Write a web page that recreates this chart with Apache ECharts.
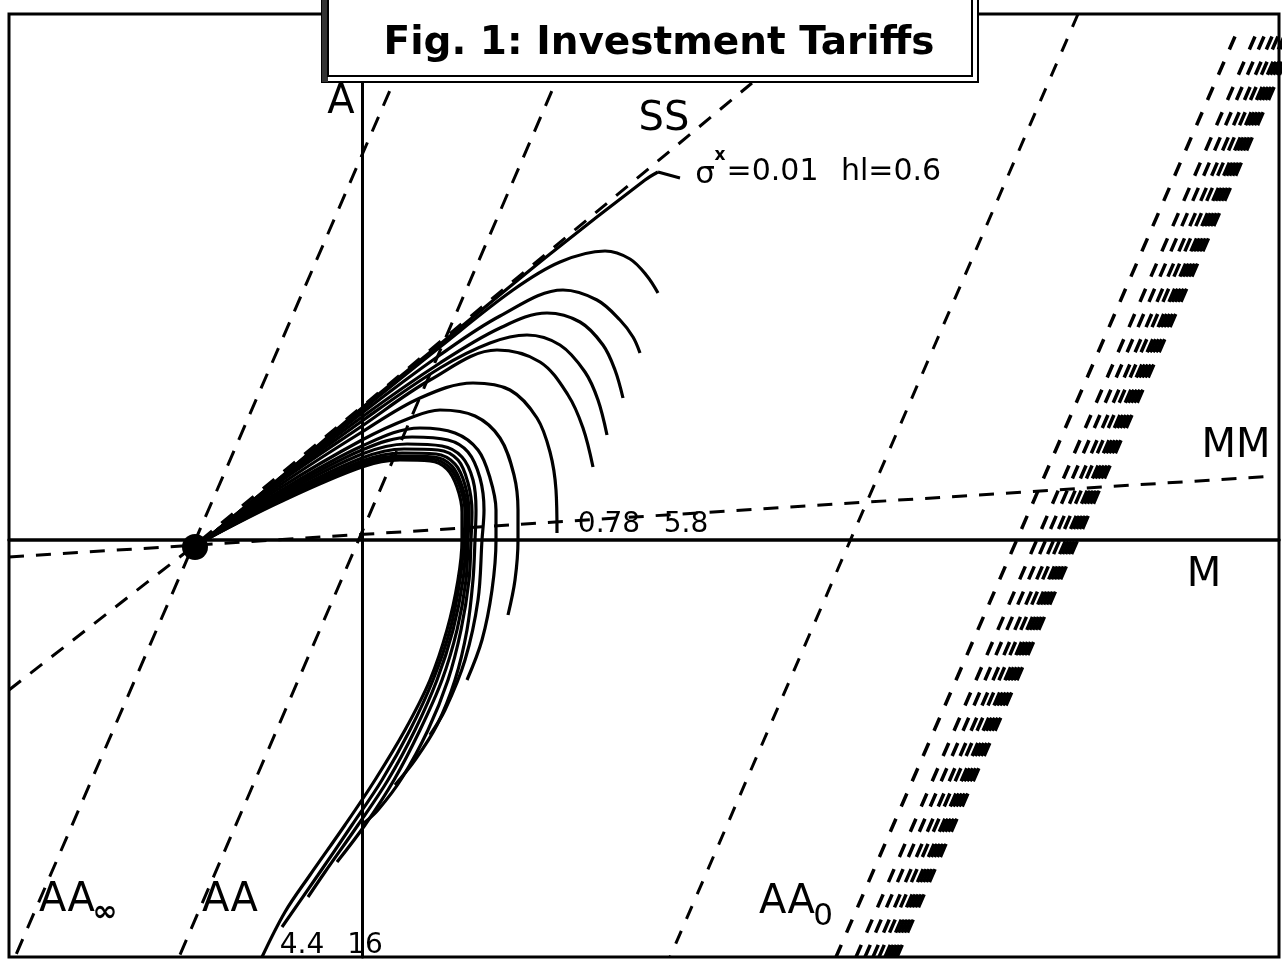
<!DOCTYPE html>
<html>
<head>
<meta charset="utf-8">
<title>Fig. 1: Investment Tariffs</title>
<script src="https://cdn.jsdelivr.net/npm/echarts/dist/echarts.min.js"></script>
<style>
  html, body { margin: 0; padding: 0; background: #fff; }
  #chart { width: 1287px; height: 963px; }
</style>
</head>
<body>
<div id="chart"></div>
<script>
// phase plane: M to the right, A upwards, origin where the two axes cross
var xMin = -3.53, xMax = 9.17;
var yMin = -4.17, yMax = 5.26;

// steady state (big dot)
var steadyPoint = [-1.67, -0.07];

// dashed loci
var lineAAinf = [[0.61, 5.26], [-3.47, -4.17]];
var lineAA = [[2.23, 5.26], [-1.83, -4.17]];
var lineAA0 = [[7.16, 5.26], [3.08, -4.17]];
var lineSS = [[-3.53, -1.50], [-1.67, -0.05], [3.90, 4.57]];
var lineMM = [[-3.53, -0.17], [9.13, 0.64]];

// bundle of AA loci on the right (drawn dashed, they merge into blocks)
var hatchTop = [8.73, 5.035];
var hatchBottom = [4.74, -4.17];
var hatchOffsets = [0, 0.20, 0.29, 0.37, 0.43, 0.49, 0.52, 0.55, 0.58, 0.61];

// adjustment paths, all leaving the steady state
var trajectories = [
  [[-1.57,0],[-0.82,0.62],[0,1.32],[0.88,2.04],[1.88,2.86],[2.83,3.60],[2.96,3.68]],
  [[-1.57,0],[-0.82,0.62],[0,1.30],[0.78,1.93],[1.51,2.50],[1.98,2.78],[2.43,2.89],[2.68,2.81],[2.85,2.64],[2.96,2.47]],
  [[-1.57,0],[-0.82,0.61],[0,1.27],[0.78,1.85],[1.38,2.24],[2.01,2.50],[2.35,2.40],[2.58,2.20],[2.71,2.03],[2.78,1.87]],
  [[-1.57,0],[-0.82,0.60],[0,1.23],[0.78,1.77],[1.38,2.12],[1.85,2.27],[2.18,2.18],[2.41,1.95],[2.53,1.70],[2.61,1.42]],
  [[-1.57,0],[-0.82,0.59],[0,1.19],[0.78,1.72],[1.28,1.97],[1.65,2.05],[1.98,1.95],[2.23,1.68],[2.36,1.40],[2.45,1.05]],
  [[-1.57,0],[-0.82,0.58],[0,1.14],[0.68,1.60],[1.35,1.90],[1.78,1.78],[2.06,1.45],[2.21,1.12],[2.31,0.73]],
  [[-1.57,0],[-0.82,0.55],[0,1.08],[0.58,1.42],[1.11,1.57],[1.48,1.50],[1.75,1.22],[1.88,0.88],[1.94,0.50],[1.95,0.07]],
  [[-1.57,0],[-0.82,0.52],[0,1.00],[0.48,1.22],[0.78,1.30],[1.13,1.24],[1.38,1.02],[1.52,0.65],[1.56,0.30],[1.56,0],[1.53,-0.40],[1.46,-0.75]],
  [[-1.57,0],[-0.82,0.49],[0,0.94],[0.58,1.12],[0.93,1.07],[1.16,0.90],[1.28,0.62],[1.34,0.30],[1.34,0],[1.30,-0.50],[1.20,-1.00],[1.05,-1.40]],
  [[-1.57,0],[-0.82,0.47],[0,0.90],[0.50,1.03],[0.86,1.00],[1.06,0.88],[1.18,0.62],[1.22,0.30],[1.20,0],[1.16,-0.60],[1.03,-1.20],[0.83,-1.70],[0.68,-1.95]],
  [[-1.57,0],[-0.82,0.45],[0,0.86],[0.45,0.96],[0.80,0.94],[1.00,0.83],[1.11,0.60],[1.14,0.30],[1.13,0],[1.11,-0.40],[1.05,-0.90],[0.93,-1.40],[0.75,-1.85],[0.53,-2.20],[0.33,-2.45]],
  [[-1.57,0],[-0.82,0.43],[0,0.82],[0.42,0.91],[0.76,0.90],[0.96,0.80],[1.06,0.57],[1.10,0.28],[1.09,0],[1.07,-0.40],[0.99,-0.90],[0.86,-1.40],[0.66,-1.90],[0.40,-2.38],[0.16,-2.70],[0.02,-2.83]],
  [[-1.57,0],[-0.82,0.41],[0,0.79],[0.40,0.87],[0.74,0.86],[0.93,0.76],[1.03,0.55],[1.07,0.28],[1.06,0],[1.04,-0.40],[0.95,-0.90],[0.80,-1.40],[0.58,-1.90],[0.32,-2.40],[0.03,-2.85],[-0.25,-3.22]],
  [[-1.57,0],[-0.82,0.40],[0,0.77],[0.38,0.84],[0.72,0.83],[0.90,0.74],[1.00,0.54],[1.05,0.28],[1.04,0],[1.01,-0.40],[0.91,-0.90],[0.75,-1.40],[0.53,-1.90],[0.26,-2.40],[-0.04,-2.85],[-0.37,-3.32],[-0.54,-3.57]],
  [[-1.57,0],[-0.82,0.39],[0,0.75],[0.38,0.82],[0.70,0.81],[0.88,0.72],[0.98,0.53],[1.03,0.28],[1.02,0],[0.98,-0.40],[0.88,-0.90],[0.71,-1.40],[0.48,-1.90],[0.20,-2.40],[-0.10,-2.85],[-0.44,-3.35],[-0.80,-3.87]],
  [[-1.57,0],[-0.82,0.38],[0,0.73],[0.38,0.80],[0.68,0.79],[0.85,0.71],[0.95,0.53],[1.00,0.28],[1.00,0],[0.96,-0.40],[0.85,-0.90],[0.68,-1.40],[0.43,-1.90],[0.13,-2.40],[-0.17,-2.85],[-0.52,-3.35],[-0.77,-3.72],[-1.00,-4.17]]
];
var leader = [[2.96, 3.68], [3.18, 3.62]];

// text on the plane: [x, y, text, size, weight]
var bigLabels = [[-0.21, 4.37, 'A'], [3.02, 4.20, 'SS'], [8.74, 0.93, 'MM'], [8.42, -0.36, 'M'],
                 [-2.95, -3.61, 'AA'], [-1.32, -3.61, 'AA'], [4.25, -3.63, 'AA']];
var smallLabels = [[3.43, 3.65, 'σ', 31], [4.105, 3.68, '=0.01', 30], [5.29, 3.68, 'hl=0.6', 30],
                   [2.47, 0.15, '0.78'], [3.24, 0.15, '5.8'], [-0.60, -4.06, '4.4'], [0.03, -4.06, '16']];
var subLabels = [[3.58, 3.84, 'x', 17, 'bold'], [-2.57, -3.73, '∞', 30, 'bold'], [4.61, -3.77, '0', 31, 'normal']];

var font = 'DejaVu Sans';
var series = [];

function plainLine(data, width, type, smooth) {
  return {
    type: 'line', data: data, symbol: 'none', silent: true, animation: false,
    smooth: smooth || false,
    lineStyle: { color: '#000', width: width, type: type || 'solid' }
  };
}

series.push(plainLine(lineAAinf, 3, [16, 12]));
series.push(plainLine(lineAA, 3, [16, 12]));
series.push(plainLine(lineAA0, 3, [14, 13]));
series.push(plainLine(lineSS, 3, [15, 12]));
series.push(plainLine(lineMM, 3, [15, 12]));

hatchOffsets.forEach(function (d) {
  series.push(plainLine([[hatchTop[0] + d, hatchTop[1]], [hatchBottom[0] + d, hatchBottom[1]]], 3.5, [14.2, 13.3]));
});

trajectories.forEach(function (p) {
  series.push(plainLine(p, 3.2, 'solid', 0.35));
});
series.push(plainLine(leader, 3));

series.push({
  type: 'scatter', data: [steadyPoint], symbolSize: 26, silent: true, animation: false,
  itemStyle: { color: '#000', opacity: 1 }, z: 5
});

function textSeries(list, size) {
  return {
    type: 'scatter', symbolSize: 1, silent: true, animation: false, z: 6,
    itemStyle: { color: 'rgba(0,0,0,0)', opacity: 1 },
    data: list.map(function (t) {
      var item = { name: t[2], value: [t[0], t[1]] };
      item.label = { fontSize: t[3] || size, fontWeight: t[4] || 'normal' };
      return item;
    }),
    label: {
      show: true, position: 'inside', color: '#000', opacity: 1, fontFamily: font,
      fontSize: size,
      formatter: function (p) { return p.name; }
    }
  };
}
series.push(textSeries(bigLabels, 40));
series.push(textSeries(smallLabels, 28));
series.push(textSeries(subLabels, 28));

var chart = echarts.init(document.getElementById('chart'), null, { renderer: 'canvas' });
chart.setOption({
  backgroundColor: '#fff',
  animation: false,
  grid: { left: 9, top: 14, width: 1270, height: 943, show: true, borderColor: '#000', borderWidth: 3 },
  xAxis: {
    type: 'value', min: xMin, max: xMax,
    axisLine: { onZero: true, lineStyle: { color: '#000', width: 3.5 } },
    axisTick: { show: false }, axisLabel: { show: false }, splitLine: { show: false }
  },
  yAxis: {
    type: 'value', min: yMin, max: yMax,
    axisLine: { onZero: true, lineStyle: { color: '#000', width: 3 } },
    axisTick: { show: false }, axisLabel: { show: false }, splitLine: { show: false }
  },
  graphic: [
    { type: 'rect', z: 100, shape: { x: 322, y: -3, width: 656, height: 85 },
      style: { fill: '#fff', stroke: '#000', lineWidth: 2 } },
    { type: 'rect', z: 101, shape: { x: 322, y: -3, width: 6, height: 85 },
      style: { fill: '#333' } },
    { type: 'rect', z: 101, shape: { x: 328, y: -3, width: 644, height: 79 },
      style: { fill: 'none', stroke: '#000', lineWidth: 2 } },
    { type: 'text', z: 102, x: 659, y: 44,
      style: { text: 'Fig. 1: Investment Tariffs', font: 'bold 39px "DejaVu Sans"', fill: '#000',
               textAlign: 'center', textVerticalAlign: 'middle' } }
  ],
  series: series
});
</script>
</body>
</html>
